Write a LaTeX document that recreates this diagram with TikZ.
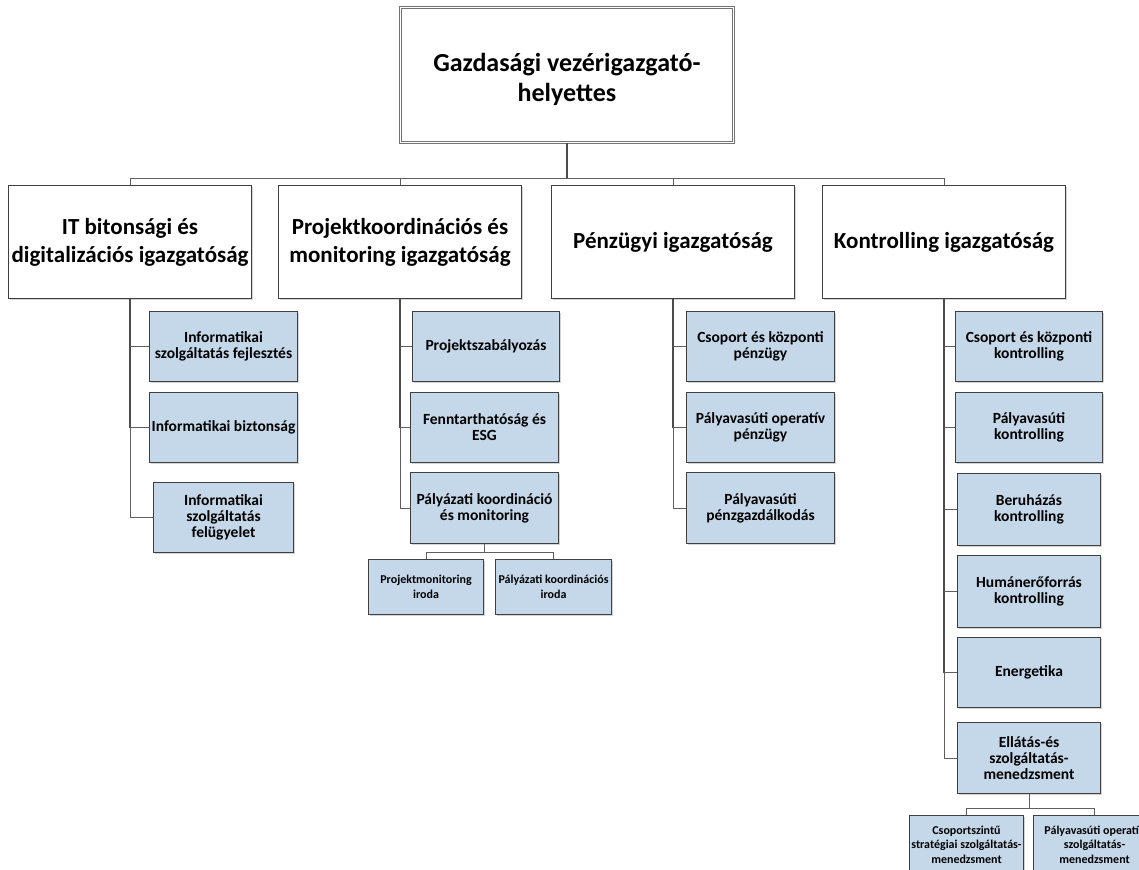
\documentclass[tikz,border=0pt]{standalone}
\usepackage{fontspec}
\setmainfont{Carlito}
\usetikzlibrary{shadows}

\definecolor{unitfill}{RGB}{197,216,234}
\definecolor{boxline}{RGB}{64,64,64}
\definecolor{connline}{RGB}{95,95,95}

\tikzset{
  shade box/.style={drop shadow={shadow xshift=1.6pt, shadow yshift=-1.6pt, opacity=0.28, fill=black!60}},
  topbox/.style={shade box, draw=black!55, double=white, double distance=0.9pt, line width=0.9pt,
    fill=white, anchor=north west, align=center, inner sep=2pt,
    font=\bfseries\fontsize{26}{30}\selectfont},
  dirbox/.style={shade box, draw=boxline, line width=1pt, fill=white, anchor=north west,
    align=center, inner sep=1pt, minimum width=243pt, minimum height=113pt,
    font=\bfseries\fontsize{23}{28}\selectfont},
  unitbox/.style={shade box, draw=boxline, line width=1pt, fill=unitfill, anchor=north west,
    align=center, inner sep=0pt, minimum height=70pt,
    font=\bfseries\fontsize{15.5}{16}\selectfont},
  smallbox/.style={shade box, draw=boxline, line width=1pt, fill=unitfill, anchor=north west,
    align=center, inner sep=0pt,
    font=\bfseries\fontsize{12}{14.5}\selectfont},
  conn/.style={draw=connline, line width=0.9pt},
  mainconn/.style={draw=black!70, line width=1.4pt},
}

\begin{document}
\begin{tikzpicture}[x=1pt, y=-1pt]
\useasboundingbox (0,0) rectangle (1139,869);
\fill[white] (0,0) rectangle (1139,869);
\clip (0,0) rectangle (1139,869);

% head of the organisation (the strut lowers the two lines a little)
\node[topbox, minimum width=333pt, minimum height=135pt] (top) at (400,7)
  {\rule{0pt}{28pt}Gazdasági vezérigazgató-\\helyettes};

% directorates
\node[dirbox] (it)   at (8,185)   {IT bitonsági és\\digitalizációs igazgatóság};
\node[dirbox] (proj) at (278,185) {Projektkoordinációs és\\monitoring igazgatóság};
\node[dirbox] (penz) at (551,185) {Pénzügyi igazgatóság};
\node[dirbox] (kont) at (822,185) {Kontrolling igazgatóság};

\coordinate (bus) at (0,178);
\draw[mainconn] (top.south) -- (top.south |- bus);
\draw[conn] (it.north) |- (kont.north |- bus) -- (kont.north);
\draw[conn] (proj.north) -- (proj.north |- bus);
\draw[conn] (penz.north) -- (penz.north |- bus);

% IT units
\node[unitbox, minimum width=148pt] (it1) at (149,311) {Informatikai\\szolgáltatás fejlesztés};
\node[unitbox, minimum width=148pt] (it2) at (149,392) {Informatikai biztonság};
\node[unitbox, minimum width=140pt] (it3) at (153,482) {Informatikai\\szolgáltatás\\felügyelet};
\draw[mainconn, line width=1.1pt] (it.south) -- (it.south |- it2.west);
\draw[conn] (it.south |- it2.west) |- (it3.west);
\draw[conn] (it.south |- it1.west) -- (it1.west);
\draw[conn] (it.south |- it2.west) -- (it2.west);

% project units
\node[unitbox, minimum width=147pt] (pr1) at (412,311) {Projektszabályozás};
\node[unitbox, minimum width=148pt] (pr2) at (410,392) {Fenntarthatóság és\\ESG};
\node[unitbox, minimum width=148pt, minimum height=71pt] (pr3) at (410,472) {Pályázati koordináció\\és monitoring};
\draw[mainconn, line width=1.1pt] (proj.south) -- (proj.south |- pr2.west);
\draw[conn] (proj.south |- pr2.west) |- (pr3.west);
\draw[conn] (proj.south |- pr1.west) -- (pr1.west);
\draw[conn] (proj.south |- pr2.west) -- (pr2.west);

\node[smallbox, minimum width=115pt, minimum height=55pt] (pm1) at (368,559) {Projektmonitoring\\iroda};
\node[smallbox, minimum width=116pt, minimum height=55pt] (pm2) at (495,559) {Pályázati koordinációs\\iroda};
\coordinate (pbus) at (0,552);
\draw[conn] (pr3.south) -- (pr3.south |- pbus);
\draw[conn] (pm1.north) |- (pm2.north |- pbus) -- (pm2.north);

% finance units
\node[unitbox, minimum width=148pt] (pe1) at (686,311) {Csoport és központi\\pénzügy};
\node[unitbox, minimum width=148pt] (pe2) at (686,392) {Pályavasúti operatív\\pénzügy};
\node[unitbox, minimum width=148pt, minimum height=71pt] (pe3) at (686,472) {Pályavasúti\\pénzgazdálkodás};
\draw[mainconn, line width=1.1pt] (penz.south) -- (penz.south |- pe2.west);
\draw[conn] (penz.south |- pe2.west) |- (pe3.west);
\draw[conn] (penz.south |- pe1.west) -- (pe1.west);
\draw[conn] (penz.south |- pe2.west) -- (pe2.west);

% controlling units
\node[unitbox, minimum width=147pt] (ko1) at (955,311) {Csoport és központi\\kontrolling};
\node[unitbox, minimum width=147pt] (ko2) at (955,392) {Pályavasúti\\kontrolling};
\node[unitbox, minimum width=143pt, minimum height=72pt] (ko3) at (957,473) {Beruházás\\kontrolling};
\node[unitbox, minimum width=143pt, minimum height=72pt] (ko4) at (957,555) {Humánerőforrás\\kontrolling};
\node[unitbox, minimum width=143pt] (ko5) at (957,637) {Energetika};
\node[unitbox, minimum width=143pt, minimum height=71pt] (ko6) at (957,722) {Ellátás-és\\szolgáltatás-\\menedzsment};
\draw[mainconn, line width=1.1pt] (kont.south) -- (kont.south |- ko5.west);
\draw[conn] (kont.south |- ko5.west) |- (ko6.west);
\foreach \u in {ko1,ko2,ko3,ko4,ko5}
  \draw[conn] (kont.south |- \u.west) -- (\u.west);

\node[smallbox, minimum width=114pt, minimum height=58pt] (el1) at (909,815) {Csoportszintű\\stratégiai szolgáltatás-\\menedzsment};
\node[smallbox, minimum width=122pt, minimum height=58pt] (el2) at (1033,815) {Pályavasúti operatív\\szolgáltatás-\\menedzsment};
\coordinate (ebus) at (0,808);
\draw[conn] (ko6.south) -- (ko6.south |- ebus);
\draw[conn] (el1.north) |- (el2.north |- ebus) -- (el2.north);
\end{tikzpicture}
\end{document}
